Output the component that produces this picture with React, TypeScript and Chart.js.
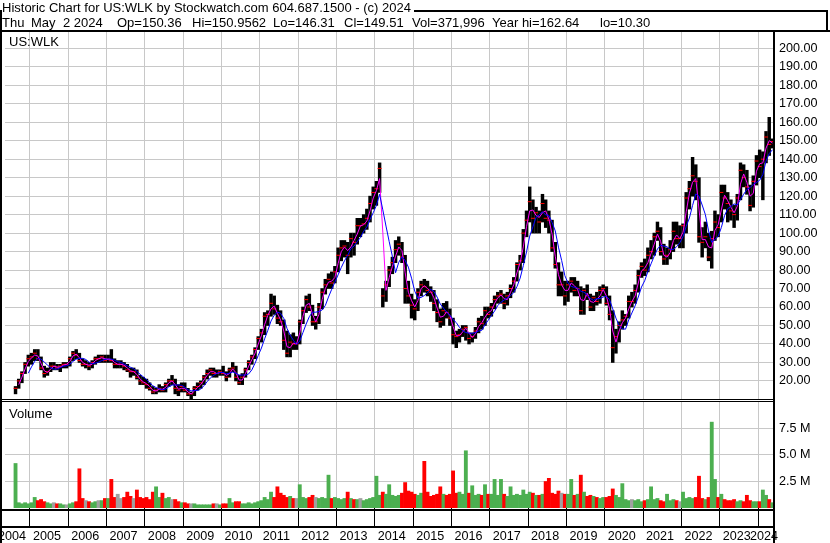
import React, { useEffect, useRef } from 'react';
import { Chart, registerables } from 'chart.js';

Chart.register(...registerables);

// ---------------- data (monthly bars, first bar = Aug 2004) ----------------
const FIRST_YEAR = 2004;
const FIRST_MONTH = 8;

const yearTicks = [2004, 2005, 2006, 2007, 2008, 2009, 2010, 2011, 2012, 2013, 2014,
  2015, 2016, 2017, 2018, 2019, 2020, 2021, 2022, 2023, 2024];
const priceTicks = [20, 30, 40, 50, 60, 70, 80, 90, 100, 110, 120, 130, 140, 150, 160, 170, 180, 190, 200];
const volumeTicks = [2.5, 5.0, 7.5]; // millions

const priceHigh = [
  17, 21, 25, 30, 34, // 2004
  35, 37, 37, 33, 28, 27, 30, 30, 29, 29, 30, 30, // 2005
  33, 36, 37, 35, 32, 31, 30, 31, 33, 34, 34, 34, // 2006
  34, 37, 32, 31, 31, 30, 29, 27, 27, 26, 23, 22, // 2007
  21, 19, 17, 16, 18, 17, 19, 21, 23, 21, 18, 19, // 2008
  19, 16, 14, 17, 19, 20, 23, 26, 27, 27, 26, 26, // 2009
  28, 25, 27, 30, 28, 23, 24, 27, 31, 34, 38, 44, // 2010
  48, 57, 58, 67, 66, 61, 58, 53, 47, 45, 46, 44, // 2011
  53, 60, 66, 67, 61, 55, 62, 70, 75, 78, 79, 82, // 2012
  92, 96, 96, 95, 100, 100, 108, 108, 110, 113, 120, 125, // 2013
  128, 138, 70, 74, 82, 87, 96, 98, 95, 88, 74, 67, // 2014
  64, 70, 74, 75, 74, 71, 69, 64, 59, 62, 63, 59, // 2015
  54, 47, 48, 50, 50, 46, 46, 49, 54, 55, 60, 60, // 2016
  62, 66, 68, 69, 67, 68, 72, 76, 84, 88, 102, 112, // 2017
  125, 118, 114, 112, 121, 118, 112, 107, 95, 84, 79, 74, // 2018
  74, 76, 76, 74, 71, 70, 72, 67, 66, 68, 71, 72, // 2019
  71, 66, 58, 48, 52, 58, 56, 66, 68, 72, 80, 84, // 2020
  86, 92, 96, 100, 106, 103, 94, 92, 96, 106, 106, 104, // 2021
  105, 122, 128, 141, 137, 130, 103, 106, 100, 101, 112, 110, // 2022
  126, 126, 122, 118, 115, 121, 138, 137, 134, 126, 131, 142, // 2023
  145, 144, 155, 162.64, 151, // 2024
];

const priceLow = [
  13, 16, 19, 24, 28, // 2004
  29, 31, 31, 26, 22, 23, 25, 26, 26, 25, 27, 27, // 2005
  28, 31, 32, 30, 28, 27, 26, 27, 29, 30, 30, 30, // 2006
  30, 30, 27, 27, 27, 26, 25, 22, 23, 21, 18, 18, // 2007
  16, 15, 13, 13, 14, 14, 14, 17, 18, 13, 12, 14, // 2008
  14, 12, 10.3, 12, 15, 16, 18, 21, 23, 22, 22, 23, // 2009
  23, 20, 22, 25, 20, 18, 18, 22, 26, 29, 32, 37, // 2010
  41, 45, 50, 55, 56, 51, 50, 37, 33, 33, 37, 37, // 2011
  40, 51, 57, 58, 50, 48, 51, 59, 67, 70, 70, 73, // 2012
  79, 85, 87, 78, 87, 88, 94, 98, 100, 102, 106, 113, // 2013
  115, 122, 60, 63, 71, 78, 84, 88, 84, 62, 62, 54, // 2014
  53, 58, 66, 68, 66, 63, 58, 52, 49, 50, 54, 50, // 2015
  40, 38, 41, 44, 42, 40, 41, 43, 46, 48, 50, 54, // 2016
  55, 59, 62, 62, 59, 61, 65, 68, 74, 80, 84, 98, // 2017
  106, 100, 100, 100, 106, 103, 100, 90, 81, 66, 66, 61, // 2018
  63, 68, 66, 66, 56, 56, 64, 58, 58, 61, 62, 66, // 2019
  61, 53, 30, 35, 41, 48, 50, 54, 60, 62, 68, 76, // 2020
  77, 79, 86, 88, 96, 88, 83, 83, 86, 90, 94, 92, // 2021
  92, 100, 113, 120, 118, 95, 87, 92, 85, 81, 96, 98, // 2022
  106, 113, 106, 107, 103, 107, 118, 125, 121, 112, 114, 126, // 2023
  130, 118, 138, 142, 146, // 2024
];

const priceClose = [
  16, 20, 24, 29, 32, // 2004
  33, 35, 32, 27, 24, 25, 28, 28, 27, 28, 29, 29, // 2005
  32, 35, 34, 31, 29, 29, 28, 30, 32, 32, 33, 31, // 2006
  32, 31, 29, 29, 29, 28, 26, 25, 25, 22, 20, 19, // 2007
  18, 16, 14, 15, 16, 15, 18, 20, 20, 16, 15, 17, // 2008
  15, 13, 13, 16, 17, 19, 22, 24, 26, 24, 24, 25, // 2009
  24, 22, 26, 27, 22, 19, 22, 26, 30, 33, 37, 43, // 2010
  46, 55, 56, 62, 59, 54, 52, 42, 35, 41, 40, 40, // 2011
  52, 58, 64, 60, 52, 52, 60, 68, 72, 75, 73, 79, // 2012
  88, 92, 93, 88, 97, 95, 104, 104, 105, 108, 116, 122, // 2013
  124, 135, 66, 72, 80, 84, 91, 94, 87, 70, 66, 61, // 2014
  59, 68, 72, 71, 69, 68, 62, 57, 52, 58, 57, 54, // 2015
  45, 44, 45, 48, 49, 43, 44, 47, 52, 51, 58, 56, // 2016
  60, 64, 66, 67, 62, 66, 70, 74, 83, 85, 100, 107, // 2017
  117, 108, 111, 106, 116, 108, 107, 92, 83, 72, 72, 66, // 2018
  72, 74, 69, 70, 58, 69, 66, 60, 65, 63, 69, 70, // 2019
  62, 56, 38, 44, 50, 53, 55, 63, 63, 69, 77, 82, // 2020
  80, 88, 90, 98, 101, 90, 86, 88, 91, 101, 97, 97, // 2021
  104, 119, 124, 131, 128, 98, 95, 98, 87, 97, 106, 103, // 2022
  122, 119, 116, 112, 110, 119, 134, 130, 125, 115, 128, 139, // 2023
  136, 140, 152, 148, 149.51, // 2024
];

const volumeMillions = [
  4.2, 0.5, 0.4, 0.5, 0.4, // 2004
  0.5, 1.0, 0.7, 0.8, 0.6, 0.5, 0.4, 0.5, 0.4, 0.4, 0.3, 0.3, // 2005
  0.4, 0.5, 0.6, 3.7, 0.9, 0.7, 0.6, 0.5, 0.6, 0.7, 0.7, 0.9, // 2006
  0.9, 2.7, 1.0, 1.3, 0.9, 1.0, 1.5, 1.1, 0.9, 1.7, 1.0, 0.9, // 2007
  1.0, 0.8, 1.5, 2.0, 1.0, 1.4, 0.9, 1.0, 0.8, 0.8, 0.6, 0.5, // 2008
  0.5, 0.4, 0.4, 0.4, 0.3, 0.3, 0.3, 0.3, 0.3, 0.4, 0.4, 0.3, // 2009
  0.4, 0.4, 0.9, 0.5, 0.6, 0.6, 0.4, 0.4, 0.5, 0.4, 0.5, 0.6, // 2010
  0.7, 1.0, 0.8, 1.5, 1.0, 2.0, 1.4, 1.2, 1.0, 1.1, 0.9, 0.9, // 2011
  2.2, 1.0, 0.9, 1.0, 1.2, 1.0, 0.9, 1.0, 0.9, 3.1, 0.9, 1.0, // 2012
  0.9, 0.8, 0.9, 1.5, 0.9, 0.8, 0.8, 0.9, 0.7, 0.8, 0.9, 1.0, // 2013
  3.0, 1.2, 1.5, 1.3, 2.2, 1.2, 1.1, 1.2, 1.4, 2.4, 1.6, 1.5, // 2014
  1.3, 1.2, 1.4, 4.4, 1.5, 1.1, 1.2, 1.3, 2.0, 1.3, 1.2, 1.3, // 2015
  3.5, 1.4, 1.5, 1.3, 5.4, 1.4, 2.1, 1.2, 1.3, 1.2, 2.2, 1.3, // 2016
  1.3, 2.7, 1.2, 2.7, 1.3, 1.1, 2.0, 1.2, 1.3, 1.2, 1.7, 1.3, // 2017
  1.5, 1.4, 1.2, 1.2, 1.3, 2.5, 2.8, 1.4, 1.3, 1.6, 1.4, 1.3, // 2018
  1.3, 2.7, 1.2, 1.3, 3.1, 1.5, 1.1, 1.2, 1.1, 1.0, 0.9, 1.0, // 2019
  1.0, 1.1, 1.8, 1.2, 1.0, 2.3, 0.8, 0.7, 0.8, 0.7, 0.8, 0.6, // 2020
  0.7, 0.8, 2.0, 0.8, 0.9, 0.7, 0.6, 1.3, 0.7, 0.8, 0.7, 0.6, // 2021
  1.5, 0.9, 1.0, 0.9, 1.0, 3.0, 0.9, 0.8, 1.0, 8.1, 2.7, 1.0, // 2022
  1.3, 0.8, 0.7, 0.7, 0.8, 0.6, 0.7, 0.6, 1.2, 0.7, 0.6, 0.6, // 2023
  0.6, 1.7, 1.2, 0.8, 0.5, // 2024
];

const titleText = 'Historic Chart for US:WLK by Stockwatch.com 604.687.1500 - (c) 2024';
const quoteParts = ['Thu', 'May', '2 2024', 'Op=150.36', 'Hi=150.9562', 'Lo=146.31', 'Cl=149.51',
  'Vol=371,996', 'Year hi=162.64', 'lo=10.30'];
const symbolLabel = 'US:WLK';
const volumeLabel = 'Volume';

// ---------------- layout / style ----------------
const W = 830;
const H = 543;
const FONT = '"Liberation Sans", Arial, sans-serif';
const TICK_SIZE = 12.6;
const quoteX = [2, 31, 63, 117, 192, 273, 344, 412, 492, 600];
const X_MIN = 2004.3502;
const X_MAX = 2024.3899;
const PRICE_MAX = 208.82;
const PRICE_MIN = -48.76;
const VOL_AXIS_MAX = 44.9;
const VOL_PANEL_TOP = 10;
const GRID = '#c8c8c8';
const UP = '#4caf50';
const DOWN = '#ff0000';
const FLAT = '#a0a0a0';

const monthX = (i: number) => FIRST_YEAR + (FIRST_MONTH - 1 + i + 0.5) / 12;

const movingAverage = (vals: number[], n: number) =>
  vals.map((_, i) => {
    if (i < n - 1) return null;
    let s = 0;
    for (let k = i - n + 1; k <= i; k++) s += vals[k];
    return s / n;
  });

const measure = (text: string, size: number) => {
  const c = document.createElement('canvas').getContext('2d')!;
  c.font = `${size}px ${FONT}`;
  return c.measureText(text).width;
};

const noPad = (s: any) => {
  s.paddingTop = 0;
  s.paddingBottom = 0;
  s.paddingLeft = 0;
  s.paddingRight = 0;
};

const decorPlugin = {
  id: 'decor',
  beforeDraw(chart: any) {
    const ctx = chart.ctx;
    ctx.save();
    ctx.fillStyle = '#fff';
    ctx.fillRect(0, 0, chart.width, chart.height);
    ctx.restore();
  },
  afterDraw(chart: any) {
    const { ctx, chartArea } = chart;
    const xs = chart.scales.x;
    const yv = chart.scales.yv;
    const right = Math.round(chartArea.right);
    const volTop = Math.round(yv.getPixelForValue(VOL_PANEL_TOP));
    const volBase = Math.round(yv.getPixelForValue(0));
    ctx.save();
    ctx.fillStyle = '#fff';
    ctx.fillRect(0, volTop - 2, right, 1);
    ctx.fillStyle = '#000';
    ctx.fillRect(0, volTop - 3, right, 1);
    ctx.fillRect(0, volTop - 1, right, 1);
    ctx.fillRect(0, volBase + 1, right, 2);
    ctx.fillRect(0, volBase + 18, right, 2);
    ctx.fillRect(right, 30, 2, H - 30);
    ctx.fillRect(0, 30, W, 2);
    ctx.fillRect(0, 10, 2, H - 10);

    ctx.font = `13px ${FONT}`;
    ctx.textAlign = 'left';
    ctx.textBaseline = 'alphabetic';
    ctx.fillText(titleText, 2, 12);
    const tw = ctx.measureText(titleText).width;
    const frameStart = Math.round(2 + tw + 3);
    ctx.fillRect(frameStart, 10, 828 - frameStart, 2);
    ctx.fillRect(826, 10, 2, 21);
    quoteParts.forEach((p, i) => ctx.fillText(p, quoteX[i], 27));
    ctx.fillText(symbolLabel, 9, 46);
    ctx.fillText(volumeLabel, 9, 418);

    ctx.font = `${TICK_SIZE}px ${FONT}`;
    yearTicks.forEach((y) => {
      const label = String(y);
      const w = ctx.measureText(label).width;
      let x = xs.getPixelForValue(y) + 3;
      x = Math.max(x, -2);
      x = Math.min(x, right + 5 - w);
      ctx.fillText(label, x, 540);
    });
    ctx.restore();
  },
};

export default function App() {
  const ref = useRef<HTMLCanvasElement | null>(null);

  useEffect(() => {
    if (!ref.current) return;
    const bars = priceHigh.map((h, i) => ({ x: monthX(i), y: [priceLow[i], h] }));
    const closes = priceClose.map((c, i) => ({ x: monthX(i), y: c }));
    const fast = movingAverage(priceClose, 2).map((v, i) => ({ x: monthX(i), y: v }));
    const slow = movingAverage(priceClose, 5).map((v, i) => ({ x: monthX(i), y: v }));
    const vols = volumeMillions.map((v, i) => ({ x: monthX(i), y: v }));
    const volColors = volumeMillions.map((_, i) => {
      if (i === 0) return UP;
      if (priceClose[i] > priceClose[i - 1]) return UP;
      if (priceClose[i] < priceClose[i - 1]) return DOWN;
      return FLAT;
    });
    const volLabelWidth = measure('7.5 M', TICK_SIZE);

    const chart = new Chart(ref.current, {
      type: 'bar',
      data: {
        datasets: [
          {
            type: 'bar',
            label: 'Volume',
            data: vols as any,
            yAxisID: 'yv',
            backgroundColor: volColors,
            barThickness: 3.2,
            grouped: false,
            order: 6,
          } as any,
          {
            type: 'bar',
            label: 'US:WLK',
            data: bars as any,
            yAxisID: 'y',
            backgroundColor: '#000',
            barThickness: 2.8,
            grouped: false,
            order: 5,
          } as any,
          {
            type: 'line',
            label: 'Close',
            data: closes as any,
            yAxisID: 'y',
            showLine: false,
            pointStyle: 'line',
            pointRadius: 2,
            pointBorderColor: DOWN,
            pointBorderWidth: 1,
            order: 4,
          } as any,
          {
            type: 'line',
            label: 'MA fast',
            data: fast as any,
            yAxisID: 'y',
            borderColor: '#ff00ff',
            borderWidth: 1,
            pointRadius: 0,
            tension: 0,
            order: 3,
          } as any,
          {
            type: 'line',
            label: 'MA slow',
            data: slow as any,
            yAxisID: 'y',
            borderColor: '#0000ff',
            borderWidth: 1,
            pointRadius: 0,
            tension: 0,
            order: 2,
          } as any,
        ],
      },
      options: {
        responsive: false,
        devicePixelRatio: 1,
        animation: false,
        events: [],
        layout: { padding: { left: 2, top: 32, right: 0, bottom: 0 } },
        plugins: { legend: { display: false }, tooltip: { enabled: false }, title: { display: false } },
        scales: {
          x: {
            type: 'linear',
            position: 'bottom',
            offset: false,
            min: X_MIN,
            max: X_MAX,
            afterFit: (s: any) => { s.height = 35; noPad(s); },
            afterBuildTicks: (s: any) => {
              s.ticks = yearTicks.filter((y) => y >= X_MIN && y <= X_MAX).map((v) => ({ value: v }));
            },
            ticks: { display: false },
            grid: { color: GRID, tickColor: '#000', tickLength: 18, drawTicks: true, offset: false },
            border: { display: false },
          },
          y: {
            type: 'linear',
            position: 'right',
            weight: 1,
            min: PRICE_MIN,
            max: PRICE_MAX,
            afterFit: (s: any) => { s.width = 57; noPad(s); },
            afterBuildTicks: (s: any) => { s.ticks = priceTicks.map((v) => ({ value: v })); },
            ticks: {
              autoSkip: false,
              padding: 6,
              color: '#000',
              font: { family: FONT, size: TICK_SIZE },
              callback: (v: any) => Number(v).toFixed(2),
            },
            grid: { color: GRID, drawTicks: false },
            border: { display: false },
          },
          yv: {
            type: 'linear',
            position: 'right',
            weight: 0,
            min: 0,
            max: VOL_AXIS_MAX,
            afterFit: (s: any) => { s.width = 0; noPad(s); },
            afterBuildTicks: (s: any) => { s.ticks = volumeTicks.map((v) => ({ value: v })); },
            ticks: {
              autoSkip: false,
              mirror: true,
              crossAlign: 'near',
              padding: 6 + volLabelWidth,
              color: '#000',
              font: { family: FONT, size: TICK_SIZE },
              callback: (v: any) => `${Number(v).toFixed(1)} M`,
            },
            grid: { color: GRID, drawTicks: false },
            border: { display: false },
          },
        },
      } as any,
      plugins: [decorPlugin],
    });
    return () => chart.destroy();
  }, []);

  return (
    <div style={{ position: 'fixed', left: 0, top: 0, width: W, height: H, background: '#fff' }}>
      <canvas ref={ref} width={W} height={H} style={{ display: 'block', width: W, height: H }} />
    </div>
  );
}
